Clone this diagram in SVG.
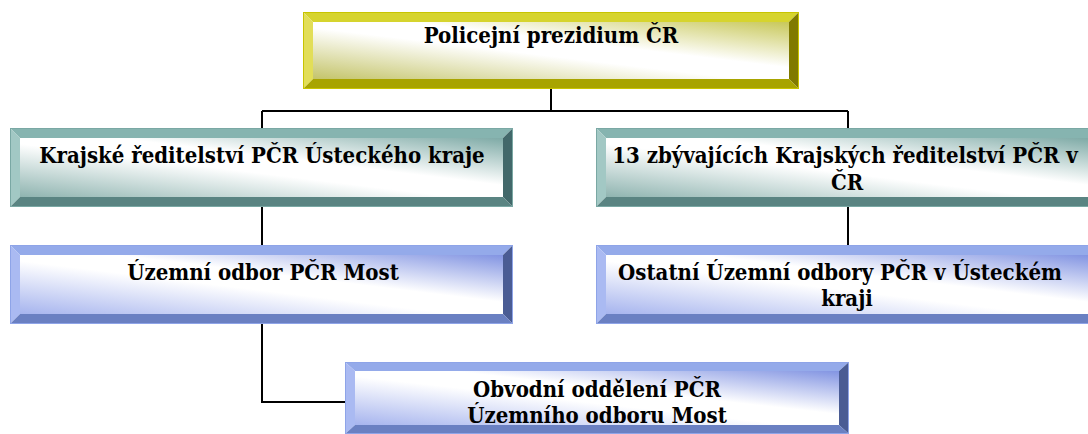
<svg xmlns="http://www.w3.org/2000/svg" width="1088" height="434" viewBox="0 0 1088 434">
<style>
text{font-family:"DejaVu Serif Condensed","DejaVu Serif",serif;font-weight:bold;font-size:22px;fill:#000;text-anchor:middle}
.conn{fill:none;stroke:#000;stroke-width:2}
.y .t{fill:#d6d42e}.y .l{fill:#e2de58}.y .r{fill:#807a00}.y .b{fill:#a8a400}.y .o{fill:none;stroke:#c8c400;stroke-width:1}
.g .t{fill:#86b4b0}.g .l{fill:#a2c8c4}.g .r{fill:#42686a}.g .b{fill:#5a8482}.g .o{fill:none;stroke:#7aa8a4;stroke-width:1}
.bl .t{fill:#94aaea}.bl .l{fill:#aabaf2}.bl .r{fill:#4a5c94}.bl .b{fill:#6a80c2}.bl .o{fill:none;stroke:#8ea4e8;stroke-width:1}
</style>
<defs>
<linearGradient id="fy" x1="0" y1="1" x2="1" y2="0">
<stop offset="0" stop-color="#c4c46a"/><stop offset="0.45" stop-color="#ffffff"/><stop offset="0.6" stop-color="#ffffff"/><stop offset="1" stop-color="#c8c85a"/>
</linearGradient>
<linearGradient id="fg" x1="0" y1="1" x2="1" y2="0">
<stop offset="0" stop-color="#8fb4b0"/><stop offset="0.45" stop-color="#ffffff"/><stop offset="0.6" stop-color="#ffffff"/><stop offset="1" stop-color="#7eaaa6"/>
</linearGradient>
<linearGradient id="fb" x1="0" y1="1" x2="1" y2="0">
<stop offset="0" stop-color="#a6b4ee"/><stop offset="0.45" stop-color="#ffffff"/><stop offset="0.6" stop-color="#ffffff"/><stop offset="1" stop-color="#8294e2"/>
</linearGradient>
</defs>

<g id="connectors">
<path class="conn" d="M551,89 V111 M262,111 H848 M262,111 V128 M848,111 V128 M262,207 V245 M848,207 V245 M262,324 V402 H345"/>
</g>

<g id="n1" class="y">
<g transform="translate(303,12)">
<rect x="10" y="10" width="476" height="57" fill="url(#fy)"/>
<polygon class="t" points="0,0 496,0 486,10 10,10"/>
<polygon class="l" points="0,0 10,10 10,67 0,77"/>
<polygon class="r" points="496,0 496,77 486,67 486,10"/>
<polygon class="b" points="0,77 10,67 486,67 496,77"/>
<rect class="o" x="0.5" y="0.5" width="495" height="76"/>
</g>
<text x="551" y="43">Policejní prezidium ČR</text>
</g>

<g id="n2" class="g">
<g transform="translate(10,128)">
<rect x="10" y="10" width="483" height="59" fill="url(#fg)"/>
<polygon class="t" points="0,0 503,0 493,10 10,10"/>
<polygon class="l" points="0,0 10,10 10,69 0,79"/>
<polygon class="r" points="503,0 503,79 493,69 493,10"/>
<polygon class="b" points="0,79 10,69 493,69 503,79"/>
<rect class="o" x="0.5" y="0.5" width="502" height="78"/>
</g>
<text x="262" y="163">Krajské ředitelství PČR Ústeckého kraje</text>
</g>

<g id="n3" class="g">
<g transform="translate(596,128)">
<rect x="10" y="10" width="483" height="59" fill="url(#fg)"/>
<polygon class="t" points="0,0 503,0 493,10 10,10"/>
<polygon class="l" points="0,0 10,10 10,69 0,79"/>
<polygon class="r" points="503,0 503,79 493,69 493,10"/>
<polygon class="b" points="0,79 10,69 493,69 503,79"/>
<rect class="o" x="0.5" y="0.5" width="502" height="78"/>
</g>
<text x="845" y="163">13 zbývajících Krajských ředitelství PČR v</text>
<text x="847" y="190">ČR</text>
</g>

<g id="n4" class="bl">
<g transform="translate(10,245)">
<rect x="10" y="10" width="483" height="59" fill="url(#fb)"/>
<polygon class="t" points="0,0 503,0 493,10 10,10"/>
<polygon class="l" points="0,0 10,10 10,69 0,79"/>
<polygon class="r" points="503,0 503,79 493,69 493,10"/>
<polygon class="b" points="0,79 10,69 493,69 503,79"/>
<rect class="o" x="0.5" y="0.5" width="502" height="78"/>
</g>
<text x="263" y="280">Územní odbor PČR Most</text>
</g>

<g id="n5" class="bl">
<g transform="translate(596,245)">
<rect x="10" y="10" width="483" height="59" fill="url(#fb)"/>
<polygon class="t" points="0,0 503,0 493,10 10,10"/>
<polygon class="l" points="0,0 10,10 10,69 0,79"/>
<polygon class="r" points="503,0 503,79 493,69 493,10"/>
<polygon class="b" points="0,79 10,69 493,69 503,79"/>
<rect class="o" x="0.5" y="0.5" width="502" height="78"/>
</g>
<text x="840" y="280">Ostatní Územní odbory PČR v Ústeckém</text>
<text x="847" y="306">kraji</text>
</g>

<g id="n6" class="bl">
<g transform="translate(345,362)">
<rect x="10" y="9" width="484" height="54" fill="url(#fb)"/>
<polygon class="t" points="0,0 504,0 494,9 10,9"/>
<polygon class="l" points="0,0 10,9 10,63 0,72"/>
<polygon class="r" points="504,0 504,72 494,63 494,9"/>
<polygon class="b" points="0,72 10,63 494,63 504,72"/>
<rect class="o" x="0.5" y="0.5" width="503" height="71"/>
</g>
<text x="597" y="397">Obvodní oddělení PČR</text>
<text x="597" y="423">Územního odboru Most</text>
</g>
</svg>
